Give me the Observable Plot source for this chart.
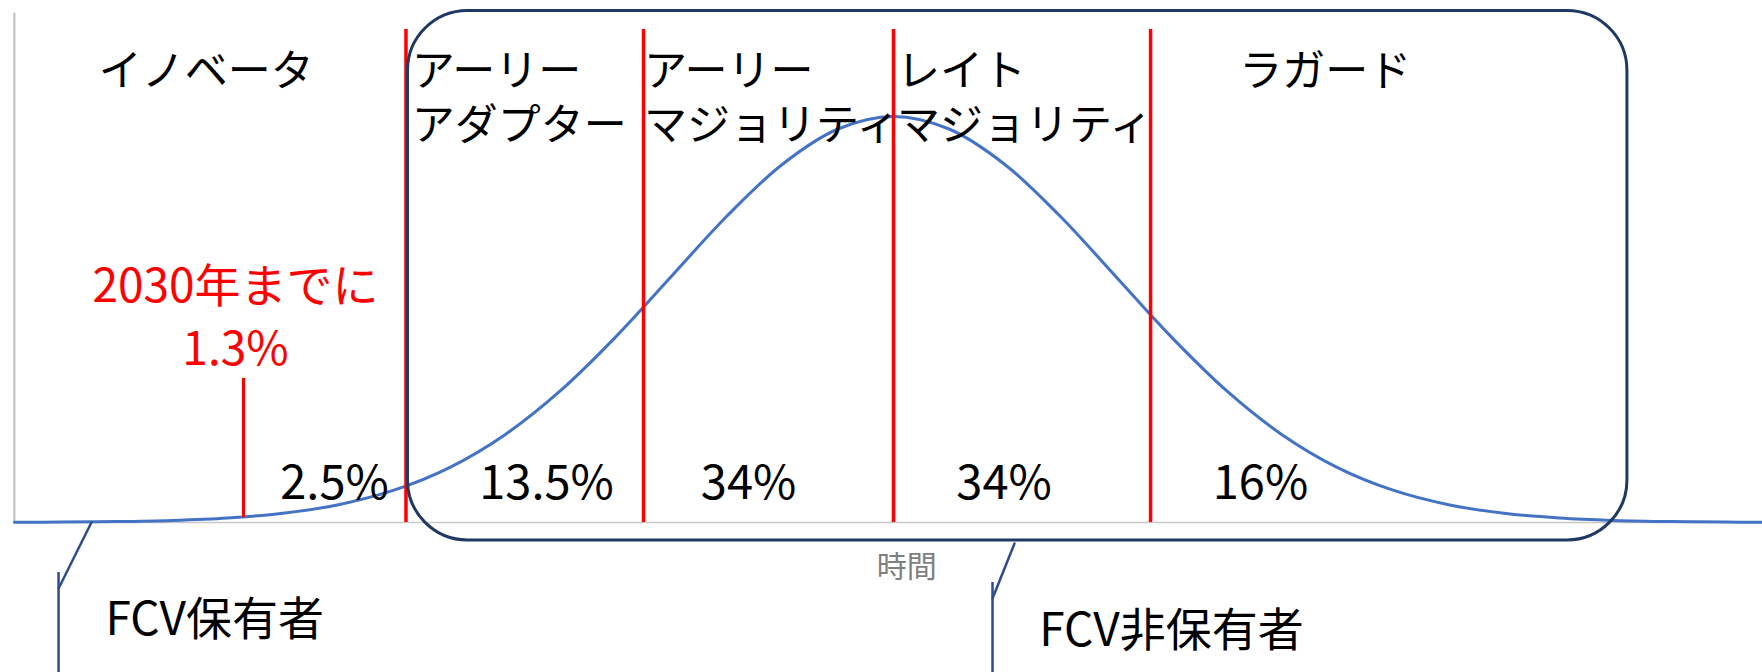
<!DOCTYPE html>
<html><head><meta charset="utf-8">
<script src="https://cdn.jsdelivr.net/npm/d3@7"></script>
<script src="https://cdn.jsdelivr.net/npm/@observablehq/plot@0.6"></script>
<style>body{margin:0;background:#fff;overflow:hidden}</style>
</head><body><div id="chart"></div>
<script>
// ---- data ----
const segmentNames = ["イノベータ", "アーリー\nアダプター", "アーリー\nマジョリティ", "レイト\nマジョリティ", "ラガード"];
const segmentShares = ["2.5%", "13.5%", "34%", "34%", "16%"];
const segmentBounds = [-2.196, -1.126, 0, 1.158];           // red dividers on the time axis
const curveX = [-3.96, -3.75, -3.5, -3.25, -3.0, -2.75, -2.5, -2.25, -2.0, -1.75, -1.5, -1.25, -1.0, -0.75, -0.5, -0.25, 0,
                0.25, 0.5, 0.75, 1.0, 1.25, 1.5, 1.75, 2.0, 2.25, 2.5, 2.75, 3.0, 3.25, 3.5, 3.75, 3.914];
const curveY = [0.0004, 0.0009, 0.0022, 0.0051, 0.0111, 0.0228, 0.0439, 0.0796, 0.1353, 0.2163, 0.3247, 0.4578, 0.6065, 0.7548, 0.8825, 0.9692, 1,
                0.9692, 0.8825, 0.7548, 0.6065, 0.4578, 0.3247, 0.2163, 0.1353, 0.0796, 0.0439, 0.0228, 0.0111, 0.0051, 0.0022, 0.0009, 0.0005];
const axisRange = [-3.96, 3.914];
const target2030 = {x: -2.928, label: "2030年までに\n1.3%"};
const ownerGroups = ["FCV保有者", "FCV非保有者"];
const nonOwnerSpan = [-2.187, 3.306];
const timeLabel = "時間";

// ---- layout (data units) ----
const nameX = [-3.58, -2.17, -1.124, 0.016, 1.557];
const shareX = [-2.518, -1.563, -0.653, 0.498, 1.653];
const groupPos = [{x: -3.55, y: -0.2414}, {x: 0.656, y: -0.2685}];
const callouts = [
  {id: 0, pts: [[-3.613, 0], [-3.761, -0.1626]], stem: [-3.761, -0.1232]},
  {id: 1, pts: [[0.545, -0.0517], [0.446, -0.1872]], stem: [0.446, -0.1478]}
];
const yMin = -0.3695, yMax = 1.2857;

const curve = curveX.map((x, i) => ({x, y: curveY[i]}));
const names = segmentNames.map((t, i) => ({t, x: nameX[i]}));
const shares = segmentShares.map((t, i) => ({t, x: shareX[i]}));
const groups = ownerGroups.map((t, i) => ({t, ...groupPos[i]}));
const diag = callouts.flatMap(c => c.pts.map(p => ({id: c.id, x: p[0], y: p[1]})));
const stems = callouts.map(c => ({x: c.stem[0], y1: c.stem[1], y2: yMin}));

const font = "'Noto Sans CJK JP', 'Noto Sans', sans-serif";

const chart = Plot.plot({
  width: 1762, height: 672,
  marginLeft: 0, marginRight: 0, marginTop: 0, marginBottom: 0,
  style: {fontFamily: font, background: "white"},
  x: {domain: [-4.0225, 3.9144], axis: null},
  y: {domain: [yMin, yMax], axis: null},
  marks: [
    Plot.ruleX([axisRange[0]], {y1: 0, y2: 1.254, stroke: "#bfbfbf", strokeWidth: 2}),
    Plot.ruleY([0], {x1: axisRange[0], x2: axisRange[1], stroke: "#c8c8c8", strokeWidth: 1.5}),
    Plot.line(curve, {x: "x", y: "y", stroke: "#4472c4", strokeWidth: 3, curve: "catmull-rom"}),
    Plot.ruleX(segmentBounds, {y1: 0, y2: 1.214, stroke: "#ff0000", strokeWidth: 3.5}),
    Plot.ruleX([target2030.x], {y1: 0.012, y2: 0.355, stroke: "#ff0000", strokeWidth: 3}),
    Plot.rect([nonOwnerSpan], {x1: d => d[0], x2: d => d[1], y1: -0.0443, y2: 1.26, rx: 60, ry: 60, fill: "none", stroke: "#1f3864", strokeWidth: 3}),
    Plot.text(names, {x: "x", y: 1.169, text: "t", textAnchor: "start", lineAnchor: "top", lineHeight: 1.25, fontSize: 43, fill: "#000"}),
    Plot.text(shares, {x: "x", y: 0.0955, text: "t", textAnchor: "middle", fontSize: 47, fill: "#000"}),
    Plot.text([target2030], {x: "x", dx: -8, y: 0.5148, text: "label", textAnchor: "middle", lineHeight: 1.37, fontSize: 46, fill: "#ff0000"}),
    Plot.text([timeLabel], {x: 0.06, y: -0.110, text: d => d, fontSize: 30, fill: "#7f7f7f"}),
    Plot.line(diag, {x: "x", y: "y", z: "id", stroke: "#2f4b8c", strokeWidth: 2.5}),
    Plot.ruleX(stems, {x: "x", y1: "y1", y2: "y2", stroke: "#2f4b8c", strokeWidth: 2.5}),
    Plot.text(groups, {x: "x", y: "y", text: "t", textAnchor: "start", fontSize: 46, fill: "#000"})
  ]
});
document.getElementById("chart").appendChild(chart);
</script>
</body></html>
